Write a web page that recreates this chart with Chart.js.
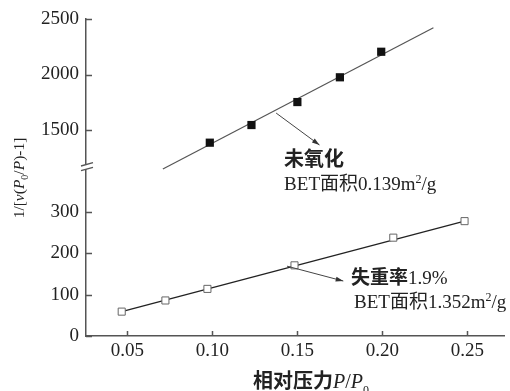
<!DOCTYPE html>
<html>
<head>
<meta charset="utf-8">
<script src="https://cdn.jsdelivr.net/npm/chart.js@4.4.0/dist/chart.umd.min.js"></script>
<style>
html, body { margin: 0; padding: 0; background: #fff; }
</style>
</head>
<body>
<canvas id="bet" width="510" height="391"></canvas>
<script>
// BET plot: unoxidised sample vs 1.9% weight loss, broken y axis

const unoxX = [0.0985, 0.123, 0.150, 0.175, 0.1993];
const unoxY = [1386, 1545, 1752, 1975, 2205];
const lossX = [0.0467, 0.0724, 0.0971, 0.1483, 0.2064, 0.2483];
const lossY = [59, 86, 114, 171, 238, 278];

// straight fit lines, end points
const unoxFitX = [0.0709, 0.230];
const unoxFitY = [1149, 2422];
const lossFitX = [0.0467, 0.2483];
const lossFitY = [59, 278];

const xTicks = [0.05, 0.10, 0.15, 0.20, 0.25];
const yTopTicks = [1500, 2000, 2500];
const yBotTicks = [0, 100, 200, 300];

const SERIF = "'Liberation Serif', 'Noto Sans CJK SC'";
const CJK = "'Noto Sans CJK SC'";
const AXIS = "#555";
const INK = "#222";

const pts = (xs, ys) => xs.map((x, i) => ({ x: x, y: ys[i] }));

// rich text: [text, style] with style '', 'i', 'sub', 'sup', 'b'
function richFont(style, size) {
    if (style === "i") return "italic " + size + "px " + SERIF;
    if (style === "sub" || style === "sup") return Math.round(size * 0.62) + "px " + SERIF;
    if (style === "b") return "bold " + size + "px " + CJK;
    return size + "px " + SERIF;
}
function richWidth(ctx, parts, size) {
    let w = 0;
    for (const p of parts) { ctx.font = richFont(p[1], size); w += ctx.measureText(p[0]).width; }
    return w;
}
function drawRich(ctx, parts, x, y, size, align) {
    ctx.save();
    ctx.fillStyle = INK;
    ctx.textBaseline = "alphabetic";
    ctx.textAlign = "left";
    if (align === "center") x -= richWidth(ctx, parts, size) / 2;
    for (const p of parts) {
        ctx.font = richFont(p[1], size);
        let dy = 0;
        if (p[1] === "sub") dy = size * 0.28;
        if (p[1] === "sup") dy = -size * 0.38;
        ctx.fillText(p[0], x, y + dy);
        x += ctx.measureText(p[0]).width;
    }
    ctx.restore();
}

// annotation texts anchored in data space
const notes = [
    { axis: "yTop", x: 0.1422, y: 1176, size: 20, parts: [["未氧化", "b"]] },
    { axis: "yBot", x: 0.1422, y: 353, size: 19, parts: [["BET面积0.139m", ""], ["2", "sup"], ["/g", ""]] },
    { axis: "yBot", x: 0.1816, y: 126, size: 19, parts: [["失重率", "b"], ["1.9%", ""]] },
    { axis: "yBot", x: 0.1833, y: 68, size: 19, parts: [["BET面积1.352m", ""], ["2", "sup"], ["/g", ""]] }
];
const arrows = [
    { axis: "yTop", x0: 0.1375, y0: 1653, x1: 0.163, y1: 1365 },
    { axis: "yBot", x0: 0.1439, y0: 169, x1: 0.177, y1: 133 }
];

const decor = {
    id: "decor",
    afterDraw(chart) {
        const ctx = chart.ctx;
        const a = chart.chartArea;
        const sx = chart.scales.x, st = chart.scales.yTop, sb = chart.scales.yBot;

        // inward tick marks
        ctx.save();
        ctx.strokeStyle = AXIS;
        ctx.lineWidth = 1.5;
        ctx.beginPath();
        for (const v of xTicks) {
            const px = Math.round(sx.getPixelForValue(v)) + 0.5;
            ctx.moveTo(px, a.bottom); ctx.lineTo(px, a.bottom - 5);
        }
        for (const v of yTopTicks) {
            const py = Math.round(st.getPixelForValue(v)) + 0.5;
            ctx.moveTo(a.left, py); ctx.lineTo(a.left + 6, py);
        }
        for (const v of yBotTicks) {
            const py = Math.round(sb.getPixelForValue(v)) + 0.5;
            ctx.moveTo(a.left, py); ctx.lineTo(a.left + 6, py);
        }
        ctx.stroke();

        // axis break
        const yb = st.bottom;
        ctx.fillStyle = "#fff";
        ctx.fillRect(a.left - 3, yb - 2.5, 6, 4.5);
        ctx.lineWidth = 1.3;
        ctx.beginPath();
        ctx.moveTo(a.left - 5, yb - 1); ctx.lineTo(a.left + 7, yb - 4.3);
        ctx.moveTo(a.left - 5, yb + 3.7); ctx.lineTo(a.left + 7, yb + 0.4);
        ctx.stroke();

        // arrows
        ctx.strokeStyle = "#444";
        ctx.fillStyle = "#333";
        ctx.lineWidth = 1;
        for (const r of arrows) {
            const ys = chart.scales[r.axis];
            const x0 = sx.getPixelForValue(r.x0), y0 = ys.getPixelForValue(r.y0);
            const x1 = sx.getPixelForValue(r.x1), y1 = ys.getPixelForValue(r.y1);
            const ang = Math.atan2(y1 - y0, x1 - x0);
            ctx.beginPath();
            ctx.moveTo(x0, y0); ctx.lineTo(x1, y1);
            ctx.stroke();
            ctx.beginPath();
            ctx.moveTo(x1, y1);
            ctx.lineTo(x1 - 8 * Math.cos(ang - 0.3), y1 - 8 * Math.sin(ang - 0.3));
            ctx.lineTo(x1 - 8 * Math.cos(ang + 0.3), y1 - 8 * Math.sin(ang + 0.3));
            ctx.closePath();
            ctx.fill();
        }
        ctx.restore();

        for (const n of notes) {
            const ys = chart.scales[n.axis];
            drawRich(ctx, n.parts, sx.getPixelForValue(n.x), ys.getPixelForValue(n.y), n.size, "left");
        }

        // axis titles
        drawRich(ctx, [["相对压力", "b"], ["P", "i"], ["/", ""], ["P", "i"], ["0", "sub"]], 311, 388, 20, "center");
        ctx.save();
        ctx.translate(24, 178);
        ctx.rotate(-Math.PI / 2);
        drawRich(ctx, [["1/[", ""], ["v", "i"], ["(", ""], ["P", "i"], ["0", "sub"], ["/", ""], ["P", "i"], [")-1]", ""]], 0, 0, 15.5, "center");
        ctx.restore();
    }
};

const yCommon = {
    type: "linear",
    position: "left",
    stack: "v",
    grid: { display: false, drawTicks: false },
    border: { color: AXIS, width: 1.5 },
    ticks: { color: INK, font: { family: SERIF, size: 19 }, padding: 7, callback: v => String(v) },
    afterFit: s => { s.width = 86; }
};

new Chart(document.getElementById("bet"), {
    type: "scatter",
    data: {
        datasets: [
            {
                label: "未氧化",
                data: pts(unoxX, unoxY),
                yAxisID: "yTop",
                pointStyle: "rect",
                pointRadius: 5.8,
                backgroundColor: "#111",
                borderColor: "#111",
                borderWidth: 0
            },
            {
                label: "失重率1.9%",
                data: pts(lossX, lossY),
                yAxisID: "yBot",
                pointStyle: "rect",
                pointRadius: 5,
                backgroundColor: "#fff",
                borderColor: "#666",
                borderWidth: 1
            },
            {
                label: "fit1",
                data: pts(unoxFitX, unoxFitY),
                yAxisID: "yTop",
                showLine: true,
                pointRadius: 0,
                borderColor: "#555",
                borderWidth: 1.2,
                clip: false
            },
            {
                label: "fit2",
                data: pts(lossFitX, lossFitY),
                yAxisID: "yBot",
                showLine: true,
                pointRadius: 0,
                borderColor: "#222",
                borderWidth: 1.3,
                clip: false
            }
        ]
    },
    options: {
        responsive: false,
        animation: false,
        layout: { padding: { top: 19, left: 0, right: 0, bottom: 0 } },
        plugins: { legend: { display: false }, tooltip: { enabled: false } },
        scales: {
            x: {
                type: "linear",
                min: 0.0257,
                max: 0.2715,
                afterBuildTicks: s => { s.ticks = xTicks.map(v => ({ value: v })); },
                grid: { display: false, drawTicks: false },
                border: { color: AXIS, width: 1.5 },
                ticks: {
                    color: INK,
                    font: { family: SERIF, size: 19 },
                    padding: 4,
                    maxRotation: 0,
                    autoSkip: false,
                    callback: v => v.toFixed(2)
                },
                afterFit: s => { s.height = 55; }
            },
            // stacked axes: the one listed first ends up at the bottom
            yBot: Object.assign({}, yCommon, {
                stackWeight: 169,
                min: 0,
                max: 409,
                afterBuildTicks: s => { s.ticks = yBotTicks.map(v => ({ value: v })); }
            }),
            yTop: Object.assign({}, yCommon, {
                stackWeight: 148,
                min: 1167,
                max: 2500,
                afterBuildTicks: s => { s.ticks = yTopTicks.map(v => ({ value: v })); }
            })
        }
    },
    plugins: [decor]
});
</script>
</body>
</html>
